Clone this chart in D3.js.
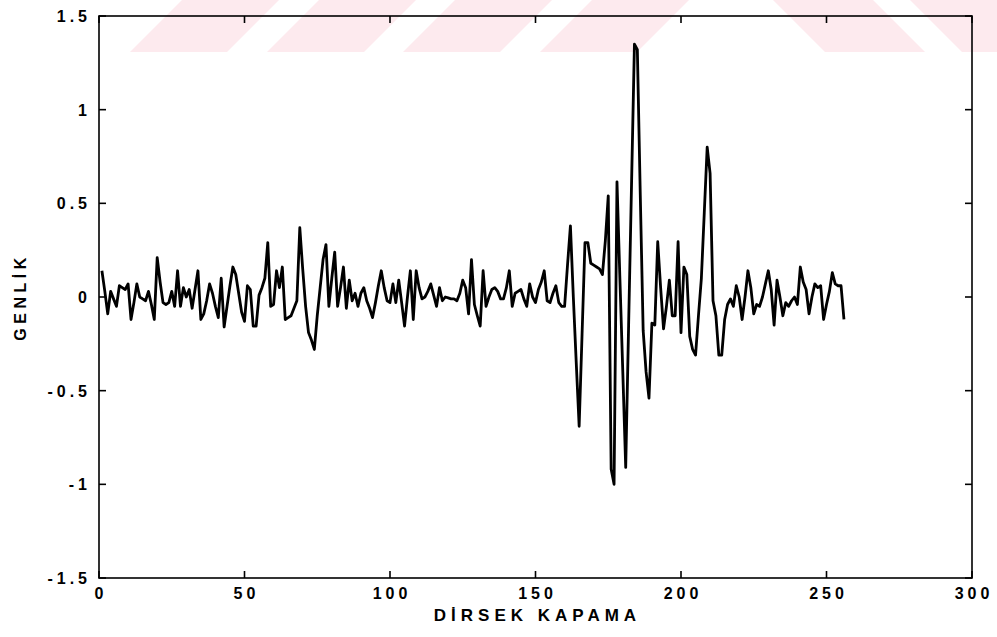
<!DOCTYPE html>
<html><head><meta charset="utf-8">
<script src="https://cdn.jsdelivr.net/npm/d3@7"></script>
<style>body{margin:0;background:#fff;overflow:hidden}</style>
</head><body><svg id="c" width="997" height="637"></svg>
<script>
// ---- data ----
const sampleIndex = d3.range(1, 257);
const amplitude = [
 0.14,0.03,-0.09,0.03,-0.01,-0.05,0.06,0.05,0.04,0.07,
 -0.12,-0.03,0.07,0.0,-0.01,-0.02,0.03,-0.04,-0.12,0.21,
 0.08,-0.03,-0.04,-0.03,0.03,-0.05,0.14,-0.05,0.05,0.0,
 0.04,-0.06,0.04,0.14,-0.12,-0.09,-0.02,0.07,0.02,-0.05,
 -0.11,0.1,-0.16,-0.05,0.06,0.16,0.12,0.02,-0.08,-0.13,
 0.06,0.04,-0.155,-0.155,0.01,0.05,0.1,0.29,-0.05,-0.04,
 0.14,0.05,0.16,-0.12,-0.11,-0.10,-0.06,-0.02,0.37,0.15,
 -0.05,-0.19,-0.23,-0.28,-0.1,0.05,0.2,0.28,-0.05,0.1,
 0.24,-0.05,0.05,0.16,-0.06,0.09,-0.02,0.02,-0.05,0.02,
 0.05,-0.02,-0.06,-0.11,-0.03,0.06,0.14,0.05,-0.02,-0.03,
 0.07,-0.03,0.09,-0.03,-0.155,0.0,0.14,-0.12,0.14,0.05,
 -0.01,0.0,0.03,0.07,0.01,-0.05,0.05,-0.02,0.0,-0.005,
 -0.01,-0.01,-0.02,0.02,0.09,0.05,-0.09,0.2,-0.04,-0.1,
 -0.155,0.14,-0.05,0.0,0.04,0.05,0.03,-0.01,-0.01,0.05,
 0.14,-0.05,0.02,0.03,0.04,-0.01,-0.05,0.07,0.0,-0.03,
 0.04,0.08,0.14,-0.02,-0.03,0.02,0.06,-0.03,-0.05,-0.05,
 0.17,0.38,0.0,-0.35,-0.69,-0.2,0.29,0.29,0.18,0.17,
 0.16,0.15,0.12,0.3,0.54,-0.92,-1.0,0.615,0.1,-0.4,
 -0.91,-0.15,0.6,1.35,1.32,0.55,-0.18,-0.4,-0.54,-0.14,
 -0.15,0.295,0.05,-0.17,-0.05,0.09,-0.1,-0.1,0.295,-0.19,
 0.16,0.12,-0.21,-0.28,-0.31,-0.1,0.1,0.45,0.8,0.66,
 -0.02,-0.1,-0.31,-0.31,-0.12,-0.04,-0.01,-0.05,0.06,0.0,
 -0.12,0.0,0.14,0.05,-0.09,-0.04,-0.05,0.0,0.07,0.14,
 0.04,-0.15,0.09,0.0,-0.1,-0.03,-0.05,-0.02,0.0,-0.04,
 0.16,0.08,0.04,-0.09,0.0,0.07,0.05,0.06,-0.12,-0.04,
 0.03,0.13,0.07,0.06,0.06,-0.12
];
const xTicks = [0, 50, 100, 150, 200, 250, 300];
const yTicks = [-1.5, -1, -0.5, 0, 0.5, 1, 1.5];
const xTickLabels = ["0", "50", "100", "150", "200", "250", "300"];
const yTickLabels = ["-1.5", "-1", "-0.5", "0", "0.5", "1", "1.5"];
const xTitle = "DİRSEK KAPAMA";
const yTitle = "GENLİK";

// ---- layout ----
const L = 99, R = 972, T = 16, B = 578;
const svg = d3.select("#c");

// watermark stripes (decorative background)
const wm = svg.append("g").attr("fill", "#fdeaee");
const stripeStarts = [130, 267, 403, 540];
stripeStarts.forEach(s => {
  wm.append("polygon").attr("points", `${s},52 ${s+97},52 ${s+149},0 ${s+52},0`);
});
wm.append("polygon").attr("points", `773,0 873,0 925,52 825,52`);
wm.append("polygon").attr("points", `910,0 997,0 997,52 962,52`);

const x = d3.scaleLinear().domain([0, 300]).range([L, R]);
const y = d3.scaleLinear().domain([-1.5, 1.5]).range([B, T]);

const font = "Arial, 'Liberation Sans', Helvetica, sans-serif";

// line
const line = d3.line().x((d, i) => x(sampleIndex[i])).y(d => y(d));
svg.append("path").datum(amplitude)
  .attr("d", line).attr("fill", "none")
  .attr("stroke", "#000").attr("stroke-width", 2.8)
  .attr("stroke-linejoin", "round");

// axes with inside ticks
const tl = 7;
const ax = svg.append("g").attr("stroke", "#000").attr("stroke-width", 1.6);
ax.append("rect").attr("x", L).attr("y", T).attr("width", R - L).attr("height", B - T).attr("fill", "none");
xTicks.forEach(t => {
  ax.append("line").attr("x1", x(t)).attr("x2", x(t)).attr("y1", B).attr("y2", B - tl);
  ax.append("line").attr("x1", x(t)).attr("x2", x(t)).attr("y1", T).attr("y2", T + tl);
});
yTicks.forEach(t => {
  ax.append("line").attr("x1", L).attr("x2", L + tl).attr("y1", y(t)).attr("y2", y(t));
  ax.append("line").attr("x1", R).attr("x2", R - tl).attr("y1", y(t)).attr("y2", y(t));
});

// tick labels
svg.append("g").selectAll("text").data(xTicks).join("text")
  .attr("x", d => x(d) + 2).attr("y", 599)
  .attr("text-anchor", "middle")
  .attr("font-family", font).attr("font-weight", "bold").attr("font-size", 16)
  .attr("letter-spacing", 4)
  .text((d, i) => xTickLabels[i]);

svg.append("g").selectAll("text").data(yTicks).join("text")
  .attr("x", 91).attr("y", d => y(d) + 6)
  .attr("text-anchor", "end")
  .attr("font-family", font).attr("font-weight", "bold").attr("font-size", 16)
  .attr("letter-spacing", 4)
  .text((d, i) => yTickLabels[i]);

// titles
svg.append("text").attr("x", (L + R) / 2 + 2).attr("y", 621)
  .attr("text-anchor", "middle")
  .attr("font-family", font).attr("font-weight", "bold").attr("font-size", 17)
  .attr("letter-spacing", 5).text(xTitle);

svg.append("text").attr("transform", `translate(26,${(T + B) / 2}) rotate(-90)`)
  .attr("text-anchor", "middle")
  .attr("font-family", font).attr("font-weight", "bold").attr("font-size", 16)
  .attr("letter-spacing", 4.5).text(yTitle);
</script>
</body></html>
